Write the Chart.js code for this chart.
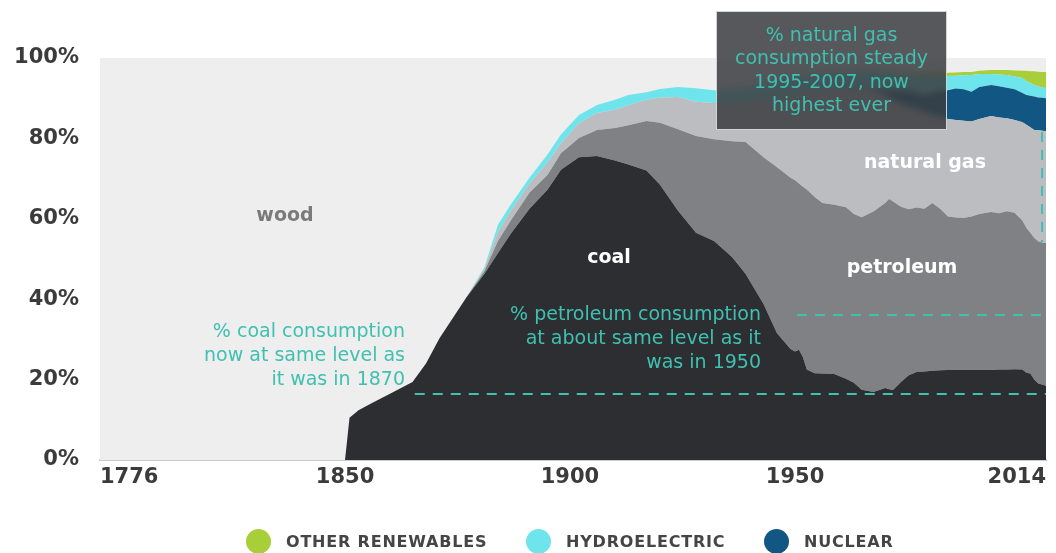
<!DOCTYPE html>
<html>
<head>
<meta charset="utf-8">
<script src="https://cdn.jsdelivr.net/npm/chart.js@4.4.1/dist/chart.umd.min.js"></script>
<style>
    body { margin: 0; background: #fff; }
    #wrap { position: relative; width: 1056px; height: 553px; overflow: hidden; font-family: 'DejaVu Sans', sans-serif; }
    #chart { position: absolute; left: 0; top: 0; }
    .area-label { position: absolute; transform: translateX(-50%); font-weight: bold; font-size: 19px; line-height: 22px; color: #fff; white-space: nowrap; }
    .note { position: absolute; font-size: 19px; line-height: 23.8px; color: #3fc0b1; text-align: right; white-space: nowrap; font-weight: normal; }
    .callout { position: absolute; left: 716px; top: 11px; width: 229px; height: 117px; background: rgba(58, 60, 64, 0.86); border: 1px solid #d4d4d4; backdrop-filter: blur(3px); }
    .callout div { padding-top: 11px; font-size: 19px; line-height: 23.3px; color: #3fc0b1; text-align: center; font-weight: normal; }
    .legend-item { position: absolute; top: 529px; display: flex; align-items: center; height: 25px; font-weight: bold; font-size: 16px; letter-spacing: 0.8px; color: #454545; white-space: nowrap; }
    .legend-item span { display: inline-block; width: 25px; height: 25px; border-radius: 50%; margin-right: 15px; }
</style>
</head>
<body>
<div id="wrap">
    <canvas id="chart" width="1056" height="553"></canvas>

    <div class="area-label" style="left:285px; top:203px; color:#7a7a7a;">wood</div>
    <div class="area-label" style="left:609px; top:245px;">coal</div>
    <div class="area-label" style="left:902px; top:255px;">petroleum</div>
    <div class="area-label" style="left:925px; top:150px;">natural gas</div>

    <div class="note" style="right:651px; top:319px;">% coal consumption<br>now at same level as<br>it was in 1870</div>
    <div class="note" style="right:295px; top:302px;">% petroleum consumption<br>at about same level as it<br>was in 1950</div>

    <div class="callout"><div>% natural gas<br>consumption steady<br>1995-2007, now<br>highest ever</div></div>

    <div id="legend"></div>
</div>

<script>
// Share of US energy consumption by source, %
const years = [1776, 1850, 1851, 1853, 1856, 1860, 1865, 1868, 1871, 1877,
    1881, 1884, 1887, 1891, 1895, 1898, 1902, 1906, 1910, 1913,
    1917, 1920, 1924, 1928, 1932, 1936, 1939, 1943, 1946, 1949,
    1950, 1951, 1952, 1953, 1955, 1957, 1960, 1963, 1965, 1967,
    1970, 1973, 1974, 1975, 1977, 1979, 1981, 1983, 1985, 1987,
    1989, 1991, 1993, 1995, 1997, 2000, 2002, 2004, 2006, 2008,
    2009, 2010, 2011, 2012, 2013, 2014];

const coal = [0, 0, 10.5, 12.4, 14.2, 16.5, 19.4, 24.0, 30.3, 40.5,
    46.3, 51.5, 56.5, 62.5, 67.2, 72.2, 75.3, 75.6, 74.5, 73.5,
    72.0, 68.5, 62.0, 56.5, 54.5, 50.5, 46.3, 38.8, 31.5, 27.6,
    27.0, 27.4, 25.6, 22.5, 21.6, 21.5, 21.4, 20.2, 19.2, 17.5,
    16.9, 17.9, 17.6, 17.4, 19.4, 21.1, 21.9, 22.0, 22.2, 22.3,
    22.4, 22.4, 22.4, 22.4, 22.4, 22.4, 22.5, 22.5, 22.6, 22.5,
    21.7, 21.5, 20.0, 19.0, 18.8, 18.5];

const petroleum = [0, 0, 0, 0, 0, 0, 0, 0, 0, 0,
    0.7, 3.0, 3.3, 4.0, 3.7, 4.1, 4.8, 6.5, 8.1, 9.8,
    12.3, 15.4, 20.3, 24.1, 25.3, 28.8, 32.8, 36.5, 41.3, 42.6,
    42.6, 41.4, 42.4, 44.8, 43.8, 42.4, 42.1, 42.7, 42.0, 42.9,
    44.9, 46.0, 47.3, 46.9, 43.6, 41.3, 40.9, 40.5, 41.7, 40.2,
    38.2, 37.9, 37.8, 38.2, 38.8, 39.3, 38.9, 39.4, 38.9, 37.0,
    36.0, 35.0, 35.2, 35.4, 35.3, 35.5];

const naturalGas = [0, 0, 0, 0, 0, 0, 0, 0, 0, 0,
    0.6, 2.3, 2.4, 2.3, 3.1, 2.5, 3.7, 4.2, 4.5, 5.0,
    5.3, 6.3, 8.0, 8.5, 9.0, 9.7, 10.1, 14.7, 17.7, 20.8,
    21.7, 22.6, 23.6, 24.4, 26.6, 28.4, 29.0, 29.7, 31.3, 32.1,
    30.4, 26.9, 25.3, 25.2, 25.6, 25.6, 24.6, 24.0, 21.9, 22.9,
    24.2, 24.3, 24.2, 23.6, 23.6, 23.9, 23.8, 23.1, 23.1, 24.5,
    25.7, 26.3, 26.9, 27.6, 27.8, 27.8];

const nuclear = [0, 0, 0, 0, 0, 0, 0, 0, 0, 0,
    0, 0, 0, 0, 0, 0, 0, 0, 0, 0,
    0, 0, 0, 0, 0, 0, 0, 0, 0, 0,
    0, 0, 0, 0, 0, 0, 0, 0.1, 0.1, 0.2,
    0.4, 1.3, 1.9, 2.6, 3.5, 3.8, 4.1, 4.3, 5.6, 6.4,
    7.2, 7.8, 7.8, 7.4, 8.0, 7.7, 7.8, 7.6, 7.6, 7.3,
    7.4, 7.8, 8.3, 8.2, 8.2, 8.2];

const hydro = [0, 0, 0, 0, 0, 0, 0, 0, 0, 0,
    0.4, 1.7, 1.6, 1.4, 2.0, 2.2, 2.0, 2.0, 2.5, 2.5,
    1.9, 2.1, 2.5, 3.4, 3.2, 3.3, 3.4, 3.6, 3.8, 4.0,
    4.0, 4.1, 4.0, 4.1, 3.8, 3.7, 3.8, 3.7, 3.9, 4.0,
    4.2, 4.1, 4.3, 4.2, 3.7, 4.0, 4.1, 4.7, 4.0, 3.4,
    3.5, 3.2, 3.5, 4.2, 3.2, 2.7, 2.9, 3.2, 3.2, 3.7,
    3.4, 3.2, 2.9, 2.8, 2.6, 2.5];

const otherRenewables = [0, 0, 0, 0, 0, 0, 0, 0, 0, 0,
    0, 0, 0, 0, 0, 0, 0, 0, 0, 0,
    0, 0, 0, 0, 0, 0, 0, 0, 0, 0,
    0.1, 0.1, 0.1, 0.1, 0.2, 0.2, 0.2, 0.2, 0.2, 0.2,
    0.2, 0.3, 0.3, 0.3, 0.4, 0.3, 0.5, 0.7, 0.8, 0.9,
    0.8, 0.8, 0.8, 0.7, 0.8, 1.0, 1.1, 1.2, 1.5, 1.8,
    2.6, 2.9, 3.4, 3.6, 3.8, 4.0];

const wood = [100, 100, 89.5, 87.6, 85.8, 83.5, 80.6, 76.0, 69.7, 59.5,
    52.0, 41.5, 36.2, 29.8, 24.0, 19.0, 14.2, 11.7, 10.4, 9.2,
    8.5, 7.7, 7.2, 7.5, 8.0, 7.7, 7.4, 6.4, 5.7, 5.0,
    4.6, 4.4, 4.3, 4.1, 4.0, 3.8, 3.5, 3.4, 3.3, 3.1,
    3.0, 3.5, 3.3, 3.4, 3.8, 3.9, 3.9, 3.8, 3.8, 3.9,
    3.7, 3.6, 3.5, 3.5, 3.2, 3.0, 3.0, 3.0, 3.1, 3.2,
    3.2, 3.3, 3.3, 3.4, 3.5, 3.5];

const tickYears = [1776, 1850, 1900, 1950, 2014];
const percentTicks = [0, 20, 40, 60, 80, 100];

// reference levels for the dashed call-out lines
const coalLevel1870 = 16.4;
const coalLineFrom = 1865.5;
const petroleumLevel1950 = 36.1;
const petroleumLineFrom = 1950.5;
const gasLineYear = 2013;
const gasLineRange = [54.2, 81.6];

const noteColor = '#3fc0b1';
const woodColor = '#eeeeee';

// the time axis is not uniform in the original: 1776-1850 is squeezed
const axisYears = [1776, 1850, 1900, 1950, 2014];
const axisStops = [0, 0.259, 0.4968, 0.7347, 1];

function yearToDecimal(v) {
    for (let i = 1; i < axisYears.length; i++) {
        if (v <= axisYears[i] || i === axisYears.length - 1) {
            const t = (v - axisYears[i - 1]) / (axisYears[i] - axisYears[i - 1]);
            return axisStops[i - 1] + t * (axisStops[i] - axisStops[i - 1]);
        }
    }
}

function decimalToYear(d) {
    for (let i = 1; i < axisStops.length; i++) {
        if (d <= axisStops[i] || i === axisStops.length - 1) {
            const t = (d - axisStops[i - 1]) / (axisStops[i] - axisStops[i - 1]);
            return axisYears[i - 1] + t * (axisYears[i] - axisYears[i - 1]);
        }
    }
}

class TimelineScale extends Chart.LinearScale {
    getPixelForValue(value) {
        return this.getPixelForDecimal(yearToDecimal(value));
    }
    getValueForPixel(pixel) {
        return decimalToYear(this.getDecimalForPixel(pixel));
    }
}
TimelineScale.id = 'timeline';
TimelineScale.defaults = Chart.LinearScale.defaults;
Chart.register(TimelineScale);

const plotBackground = {
    id: 'plotBackground',
    beforeDraw(chart) {
        const { ctx, chartArea } = chart;
        ctx.save();
        ctx.fillStyle = woodColor;
        ctx.fillRect(chartArea.left, chartArea.top, chartArea.right - chartArea.left, chartArea.bottom - chartArea.top);
        ctx.restore();
    }
};

const dashedNotes = {
    id: 'dashedNotes',
    afterDatasetsDraw(chart) {
        const { ctx, scales: { x, y } } = chart;
        ctx.save();
        ctx.strokeStyle = noteColor;
        ctx.lineWidth = 2;
        ctx.setLineDash([10, 8]);
        ctx.beginPath();
        ctx.moveTo(x.getPixelForValue(coalLineFrom), y.getPixelForValue(coalLevel1870));
        ctx.lineTo(x.right, y.getPixelForValue(coalLevel1870));
        ctx.moveTo(x.getPixelForValue(petroleumLineFrom), y.getPixelForValue(petroleumLevel1950));
        ctx.lineTo(x.right, y.getPixelForValue(petroleumLevel1950));
        ctx.moveTo(x.getPixelForValue(gasLineYear), y.getPixelForValue(gasLineRange[1]));
        ctx.lineTo(x.getPixelForValue(gasLineYear), y.getPixelForValue(gasLineRange[0]));
        ctx.stroke();
        ctx.restore();
    }
};

function area(label, values, color, fill) {
    return {
        label: label,
        data: values,
        backgroundColor: color,
        borderWidth: 0,
        pointRadius: 0,
        fill: fill,
        tension: 0
    };
}

const series = [
    area('coal', coal, '#2d2e32', 'origin'),
    area('petroleum', petroleum, '#808185', '-1'),
    area('natural gas', naturalGas, '#bcbdc0', '-1'),
    area('NUCLEAR', nuclear, '#125784', '-1'),
    area('HYDROELECTRIC', hydro, '#6ee5ec', '-1'),
    area('OTHER RENEWABLES', otherRenewables, '#a8cf3a', '-1'),
    area('wood', wood, woodColor, '-1')
];

const tickFont = { family: 'DejaVu Sans', weight: 'bold', size: 21 };

new Chart(document.getElementById('chart'), {
    type: 'line',
    data: { labels: years, datasets: series },
    options: {
        responsive: false,
        animation: false,
        layout: { padding: { top: 58, right: 10, left: 0, bottom: 0 } },
        plugins: { legend: { display: false }, tooltip: { enabled: false } },
        scales: {
            x: {
                type: 'timeline',
                min: 1776,
                max: 2014,
                afterBuildTicks: axis => { axis.ticks = tickYears.map(v => ({ value: v })); },
                afterFit: axis => { axis.height = 93; },
                grid: { display: false, drawTicks: false },
                border: { display: true, color: '#cccccc', width: 2 },
                ticks: {
                    font: tickFont,
                    color: '#3b3b3b',
                    padding: 5,
                    maxRotation: 0,
                    autoSkip: false,
                    align: 'inner',
                    callback: v => String(v)
                }
            },
            y: {
                stacked: true,
                min: 0,
                max: 100,
                afterBuildTicks: axis => { axis.ticks = percentTicks.map(v => ({ value: v })); },
                afterFit: axis => { axis.width = 100; },
                grid: { display: false, drawTicks: false },
                border: { display: false },
                ticks: {
                    font: tickFont,
                    color: '#3b3b3b',
                    padding: 21,
                    callback: v => v + '%'
                }
            }
        }
    },
    plugins: [plotBackground, dashedNotes]
});

// legend (only the three small sources, as in the original)
const legendOrder = ['OTHER RENEWABLES', 'HYDROELECTRIC', 'NUCLEAR'];
const legendLeft = [246, 526, 764];
const legendBox = document.getElementById('legend');
legendOrder.forEach((name, i) => {
    const ds = series.find(s => s.label === name);
    const item = document.createElement('div');
    item.className = 'legend-item';
    item.style.left = legendLeft[i] + 'px';
    item.innerHTML = '<span style="background:' + ds.backgroundColor + '"></span>' + name;
    legendBox.appendChild(item);
});
</script>
</body>
</html>
